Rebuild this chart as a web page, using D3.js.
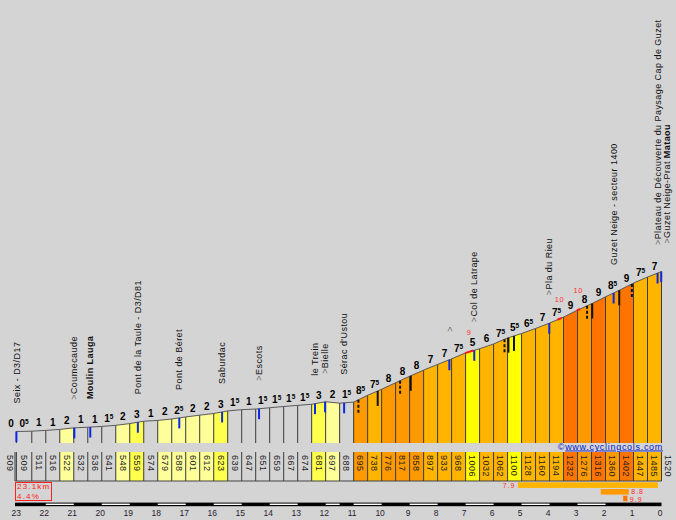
<!DOCTYPE html>
<html><head><meta charset="utf-8">
<script src="https://cdn.jsdelivr.net/npm/d3@7"></script>
<style>html,body{margin:0;padding:0;background:#d4d4d4;} svg{display:block;}</style>
</head><body>
<svg id="chart" width="676" height="520"></svg>
<script>
// ---------- data ----------
const totalKm = 23.1;
const totalGrade = 4.4;
const startAltitude = 509;
const leadGrade = 0;
const endAltitude = 1520;
const segStartKm = [23.05,22.5,22,21.5,21,20.5,20,19.5,19,18.5,18,17.5,17,16.5,16,15.5,15,14.5,14,13.5,13,12.5,12,11.5,11,10.5,10,9.5,9,8.5,8,7.5,7,6.5,6,5.5,5,4.5,4,3.5,3,2.5,2,1.5,1,0.5];
const altitudes = [509,511,516,522,532,536,541,548,559,574,579,588,601,612,623,639,647,651,659,667,674,681,697,688,695,738,776,817,858,897,933,968,1006,1032,1062,1100,1128,1160,1194,1232,1276,1316,1360,1402,1447,1485];
const grades = [0.5,1,1,2,1,1,1.5,2,3,1,2,2.5,2,2,3,1.5,1,1.5,1.5,1.5,1.5,3,2,1.5,8.5,7.5,8,8,8,7,7,7.5,5,6,7.5,5.5,6.5,7,7.5,9,8,9,8.5,9,7.5,7];
const kmTicks = [23,22,21,20,19,18,17,16,15,14,13,12,11,10,9,8,7,6,5,4,3,2,1,0];
const scaleWhiteKm = [[2,3],[4,5],[6,7],[8,9],[10,11],[11.5,12],[13,14],[15,16],[17,18],[19,20],[21,22]];

const placeNames = ["Seix - D3/D17", ">Coumecaude", "Moulin Lauga", "Pont de la Taule - D3/D81", "Pont de Béret", "Saburdac", ">Escots", "le Trein", ">Bielle", "Sérac d'Ustou", ">", ">Col de Latrape", ">Pla du Rieu", "Guzet Neige - secteur 1400", ">Plateau de Découverte du Paysage Cap de Guzet", ">Guzet Neige-Prat Mataou"];
const placeKm = [23.05, 20.98, 20.41, 18.71, 17.23, 15.70, 14.38, 12.38, 12.02, 11.34, 7.58, 6.69, 4.01, 1.71, 0.14, 0.01];

const markerKm = [10.83, 10.14, 9.34, 8.96, 5.61, 5.47, 5.27, 2.66, 2.475, 1.51, 1.06];
const markerDashed = [true, false, true, false, true, false, false, true, false, false, true];

const steepFromKm = [7.02, 3.72, 3.03];
const steepToKm = [6.72, 3.56, 2.91];
const steepGrade = ["9", "10", "10"];

const stretchAvg = [7.9, 8.8, 9.9];
const stretchLenKm = [5, 1, 0.15];
const stretchEndKm = [0.13, 1.17, 1.22];

// ---------- scales ----------
const svg = d3.select("#chart");
const x = d3.scaleLinear().domain([totalKm, 0]).range([15, 661.5]);
const y = d3.scaleLinear().domain([startAltitude, endAltitude]).range([431.5, 271.5]);
const color = d3.scaleThreshold().domain([2,3,5,6,8,9])
  .range(["none","#ffff99","#ffff4d","#ffff00","#ffb400","#ff9900","#ff7400"]);
const barBottom = 443, boxTop = 452, boxBottom = 481;
const FONT = "'Liberation Sans', Arial, sans-serif";

svg.append("rect").attr("width",676).attr("height",520).attr("fill","#d4d4d4");

const ptsD = segStartKm.concat([0]);
const ptsA = altitudes.concat([endAltitude]);
function altAt(d){
  for(let i=0;i<ptsD.length-1;i++){
    if(d<=ptsD[i] && d>=ptsD[i+1]){
      const t=(ptsD[i]-d)/(ptsD[i]-ptsD[i+1]);
      return ptsA[i]+t*(ptsA[i+1]-ptsA[i]);
    }
  }
  return d>ptsD[0]?ptsA[0]:ptsA[ptsA.length-1];
}
const segs = altitudes.map((a,i)=>({d0:ptsD[i], d1:ptsD[i+1], a0:a, a1:ptsA[i+1], g:grades[i]}));

// ---------- bars ----------
const gBars = svg.append("g");
gBars.selectAll("path").data(segs).join("path")
  .attr("d", s=>`M${x(s.d0)},${y(s.a0)}L${x(s.d1)},${y(s.a1)}L${x(s.d1)},${barBottom}L${x(s.d0)},${barBottom}Z`)
  .attr("fill", s=>color(s.g));
gBars.selectAll("line").data(ptsD).join("line")
  .attr("x1",d=>x(d)).attr("x2",d=>x(d))
  .attr("y1",(d,i)=>y(ptsA[i])).attr("y2",barBottom)
  .attr("stroke","#3a3a3a").attr("stroke-width",1);
svg.append("path")
  .attr("d", d3.line().x((d,i)=>x(d)).y((d,i)=>y(ptsA[i]))(ptsD))
  .attr("fill","none").attr("stroke","#5a5a5a").attr("stroke-width",1);

// steep red stretches
steepFromKm.forEach((d0,i)=>{
  const d1 = steepToKm[i];
  svg.append("line").attr("x1",x(d0)).attr("y1",y(altAt(d0))).attr("x2",x(d1)).attr("y2",y(altAt(d1)))
    .attr("stroke","#ff1a1a").attr("stroke-width",2);
  const dm=(d0+d1)/2;
  svg.append("text").attr("x",x(dm)).attr("y",y(altAt(dm))-17).attr("text-anchor","middle")
    .attr("font-family",FONT).attr("font-size",7.5).attr("letter-spacing",0.8).attr("fill","#ff3030").text(steepGrade[i]);
});

// black markers
markerKm.forEach((d,i)=>{
  const yy=y(altAt(d));
  svg.append("line").attr("x1",x(d)).attr("x2",x(d)).attr("y1",yy).attr("y2",yy+15)
    .attr("stroke","#111").attr("stroke-width",2)
    .attr("stroke-dasharray", markerDashed[i]?"3,2":null);
});

// place ticks + names
let prevX=-100;
const gNames = svg.append("g");
placeKm.forEach((d,i)=>{
  const px=x(d), py=y(altAt(d));
  svg.append("line").attr("x1",px).attr("x2",px).attr("y1",py).attr("y2",py+10.5)
    .attr("stroke","#0a28e6").attr("stroke-width",2);
  let lx=px; if(lx-prevX<8) lx=prevX+9; prevX=lx;
  const name=placeNames[i];
  const t=gNames.append("text").attr("transform",`translate(${lx},${py-28}) rotate(-90)`)
    .attr("dy","0.35em").attr("font-family",FONT).attr("font-size",9).attr("letter-spacing",0.45).attr("fill","#111");
  let rest=name;
  if(name.startsWith(">")){ t.append("tspan").attr("fill","#666").text(">"); rest=name.slice(1); }
  if(rest==="Moulin Lauga"){ t.append("tspan").attr("font-weight","bold").text(rest); }
  else if(rest.endsWith("Mataou")){ t.append("tspan").text(rest.replace("Mataou","")); t.append("tspan").attr("font-weight","bold").text("Mataou"); }
  else t.append("tspan").text(rest);
});

// gradient labels
function gradeLabel(sel, g){
  const whole=Math.floor(g);
  sel.append("tspan").text(whole);
  if(g-whole>0) sel.append("tspan").attr("font-size",6.5).attr("dy",-3).text("5");
}
const gGr = svg.append("g").attr("font-family",FONT).attr("font-weight","bold").attr("font-size",10).attr("fill","#000").attr("text-anchor","middle");
gGr.append("text").attr("x",x(23.24)).attr("y",y(startAltitude)-4.3).call(s=>gradeLabel(s,leadGrade));
segs.forEach(s=>{
  gGr.append("text").attr("x",(x(s.d0)+x(s.d1))/2).attr("y",(y(s.a0)+y(s.a1))/2-4.3).call(t=>gradeLabel(t,s.g));
});

// ---------- altitude boxes ----------
const gBox = svg.append("g");
gBox.selectAll("rect").data(segs).join("rect")
  .attr("x",s=>x(s.d0)).attr("width",s=>x(s.d1)-x(s.d0)).attr("y",boxTop).attr("height",boxBottom-boxTop)
  .attr("fill",s=>color(s.g));
gBox.selectAll("line").data(ptsD).join("line")
  .attr("x1",d=>x(d)).attr("x2",d=>x(d)).attr("y1",boxTop).attr("y2",boxBottom)
  .attr("stroke","#3a3a3a");
gBox.append("line").attr("x1",x(totalKm)).attr("x2",x(totalKm)).attr("y1",boxTop).attr("y2",boxBottom).attr("stroke","#3a3a3a");
gBox.append("line").attr("x1",x(totalKm)).attr("x2",x(0)).attr("y1",boxBottom).attr("y2",boxBottom).attr("stroke","#444");
const gAlt = svg.append("g").attr("font-family",FONT).attr("font-size",9).attr("letter-spacing",0.5).attr("fill","#222");
segs.forEach(s=>{
  gAlt.append("text").attr("transform",`translate(${(x(s.d0)+x(s.d1))/2},455) rotate(90)`).attr("dy","0.35em").text(s.a0);
});
gAlt.append("text").attr("transform",`translate(${x(23.28)},455) rotate(90)`).attr("dy","0.35em").text(startAltitude);
gAlt.append("text").attr("transform",`translate(${x(-0.23)},455) rotate(90)`).attr("dy","0.35em").text(endAltitude);

// copyright
const cp = svg.append("text").attr("x",663).attr("y",449.5).attr("text-anchor","end")
  .attr("font-family",FONT).attr("font-size",9).attr("letter-spacing",0.7).attr("fill","#0018cc");
cp.append("tspan").text("©");
cp.append("tspan").attr("text-decoration","underline").text("www.cyclingcols.com");

// ---------- summary box ----------
svg.append("rect").attr("x",15.5).attr("y",482.5).attr("width",36).attr("height",18)
  .attr("fill","none").attr("stroke","#ff2020");
svg.append("text").attr("x",17).attr("y",488.8).attr("font-family",FONT).attr("font-size",8).attr("letter-spacing",1.2).attr("fill","#ff2020").text(totalKm+"km");
svg.append("text").attr("x",17).attr("y",498.5).attr("font-family",FONT).attr("font-size",8).attr("letter-spacing",1.2).attr("fill","#ff2020").text(totalGrade+"%");

// steepest stretches
stretchAvg.forEach((v,i)=>{
  const xe=x(stretchEndKm[i]), xs=x(stretchEndKm[i]+stretchLenKm[i]);
  const ry=482.3+i*6.7;
  svg.append("rect").attr("x",xs).attr("y",ry).attr("width",xe-xs).attr("height",5.6).attr("fill",color(v));
  const onRight = !(xe+22>661 && xs-20>0 && stretchLenKm[i]>2);
  svg.append("text").attr("x",onRight?xe+2.5:xs-2.5).attr("y",ry+5.6+(i===1?-0.6:(i===2?0.6:0))).attr("text-anchor",onRight?"start":"end")
    .attr("font-family",FONT).attr("font-size",7).attr("letter-spacing",1).attr("fill","#ff2a2a").text(v.toFixed(1));
});

// ---------- scale bar & km labels ----------
svg.append("rect").attr("x",x(totalKm)).attr("y",502.6).attr("width",x(0)-x(totalKm)).attr("height",3.6).attr("fill","#000");
scaleWhiteKm.forEach(p=>{
  svg.append("rect").attr("x",x(p[1])).attr("y",503.6).attr("width",x(p[0])-x(p[1])).attr("height",1.4).attr("fill","#fff");
});
svg.append("g").selectAll("text").data(kmTicks).join("text")
  .attr("x",d=>x(d)-1.5).attr("y",516).attr("text-anchor","middle")
  .attr("font-family",FONT).attr("font-size",8.5).attr("fill","#2a1a33").text(d=>d);
</script>
</body></html>
